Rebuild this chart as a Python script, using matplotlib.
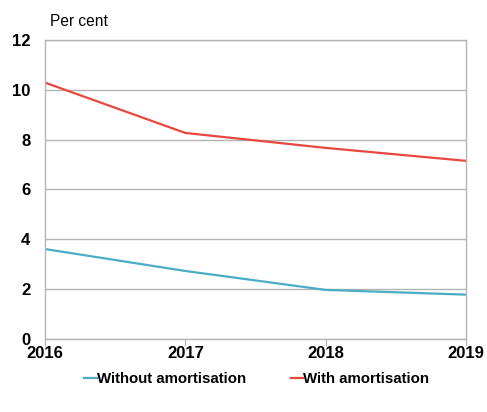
import matplotlib
matplotlib.use("Agg")
import matplotlib.pyplot as plt

plt.rcParams['font.family'] = ['Liberation Sans', 'DejaVu Sans']

years = [2016, 2017, 2018, 2019]
without_amort = [3.61, 2.73, 1.97, 1.78]
with_amort = [10.29, 8.27, 7.67, 7.15]
y_ticks = [0, 2, 4, 6, 8, 10, 12]

blue = '#4bacc6'
red = '#e8473f'
grid = '#b4b4b4'

fig = plt.figure(figsize=(4.87, 4.12), dpi=100)
ax = fig.add_axes([0.0924, 0.1772, 0.8645, 0.7257])

ax.plot(years, without_amort, color=blue, lw=1.6, label='Without amortisation')
ax.plot(years, with_amort, color=red, lw=1.6, label='With amortisation')

ax.set_xlim(2016, 2019)
ax.set_ylim(0, 12)
ax.set_yticks(y_ticks)
ax.set_xticks(years)
ax.grid(axis='y', color=grid, lw=1)
ax.set_axisbelow(True)
for s in ax.spines.values():
    s.set_color(grid)
    s.set_linewidth(1)

ax.tick_params(axis='y', length=0, pad=10.5, labelsize=12)
ax.tick_params(axis='x', length=5, color=grid, direction='out', pad=0, labelsize=12)
for lab in ax.get_xticklabels() + ax.get_yticklabels():
    lab.set_fontweight('bold')

fig.text(0.103, 0.947, 'Per cent', fontsize=11.2, va='center', ha='left')

leg = fig.legend(loc='center', bbox_to_anchor=(0.527, 0.08), ncol=2, frameon=False,
                 handlelength=0.85, handletextpad=0.0, columnspacing=3.0,
                 prop={'weight': 'bold', 'size': 10.8})

fig.savefig('out.png', dpi=100)
